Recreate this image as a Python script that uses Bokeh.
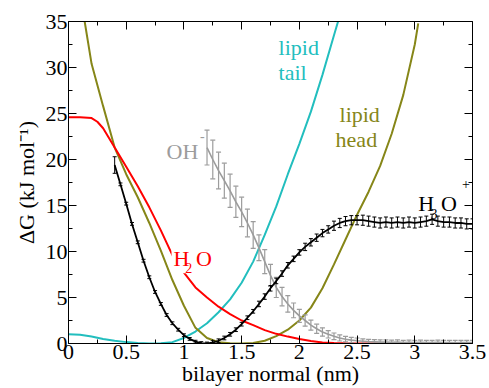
from bokeh.plotting import figure
from bokeh.models import (Range1d, FixedTicker, CustomJSTickFormatter, LinearAxis,
                          Label, ColumnDataSource)
from bokeh.embed import file_html
from bokeh.resources import INLINE

# ---------------- data ----------------
tail_x = [0.0, 0.1, 0.2, 0.3, 0.4, 0.5, 0.6, 0.7, 0.8, 0.9, 1.0, 1.1, 1.2, 1.3,
          1.4, 1.5, 1.6, 1.7, 1.8, 1.9, 2.0, 2.1, 2.2, 2.3, 2.34]
tail_y = [1.0, 0.95, 0.75, 0.5, 0.3, 0.15, 0.05, 0.0, 0.02, 0.15, 0.6, 1.3, 2.2, 3.4,
          4.8, 6.6, 8.9, 11.8, 14.9, 18.4, 21.7, 25.2, 29.2, 33.5, 35.2]

head_x = [0.14, 0.2, 0.3, 0.4, 0.5, 0.6, 0.7, 0.8, 0.9, 1.0, 1.1, 1.2, 1.3, 1.4,
          1.5, 1.6, 1.7, 1.8, 1.9, 2.0, 2.1, 2.2, 2.3, 2.4, 2.5, 2.6, 2.7, 2.8,
          2.9, 3.0, 3.03]
head_y = [35.0, 30.4, 25.8, 21.3, 18.4, 15.9, 13.1, 10.1, 6.9, 4.1, 1.7, 0.6, 0.15,
          0.02, 0.0, 0.05, 0.3, 0.8, 1.5, 2.5, 3.9, 6.0, 8.6, 11.3, 14.0, 16.5,
          19.3, 22.8, 27.0, 32.5, 34.8]

h2o_x = [0.0, 0.1, 0.2, 0.25, 0.3, 0.4, 0.5, 0.6, 0.7, 0.8, 0.9, 1.0, 1.1, 1.2, 1.3,
         1.4, 1.5, 1.6, 1.7, 1.8, 1.9, 2.0, 2.1, 2.2, 2.3, 2.4, 2.6, 2.8, 3.0,
         3.2, 3.4, 3.5]
h2o_y = [24.6, 24.6, 24.5, 24.1, 23.4, 21.3, 19.2, 17.1, 14.8, 12.3, 9.6, 7.7, 6.1, 5.0,
         4.0, 3.2, 2.5, 2.0, 1.45, 1.05, 0.75, 0.5, 0.28, 0.12, 0.05, 0.02, 0.0,
         0.0, 0.0, 0.0, 0.0, 0.0]

h3o_x = [round(0.40 + 0.05 * i, 2) for i in range(63)]
h3o_y = [19.4, 17.3, 15.2, 13.0, 11.0, 9.0, 7.2, 5.6, 4.3, 3.1, 2.2, 1.5, 0.9, 0.5,
         0.2, 0.05, 0.0,
         0.1, 0.3, 0.6, 1.0, 1.5, 2.1, 2.8, 3.5, 4.3, 5.1, 6.0, 6.8, 7.6, 8.5,
         9.2, 9.9,
         10.5, 11.0, 11.5, 12.0, 12.4, 12.8, 13.1, 13.3, 13.4, 13.4,
         13.4, 13.3, 13.2, 13.1, 13.2, 13.1, 13.2, 13.1, 13.2, 13.1, 13.2, 13.3,
         13.5, 13.3, 13.2, 13.2, 13.1, 13.1, 13.0, 13.0]
h3o_err = [0.9] + [0.15] * 16 + [0.2] * 8 + [0.3] * 8 + [0.4] * 5 + [0.5] * 5 + [0.55] * 20

oh_x = [round(1.20 + 0.05 * i, 2) for i in range(47)]
oh_y = [21.3, 20.0, 18.8, 17.7, 16.6, 15.4, 14.3, 13.1, 11.8, 10.4, 8.9, 7.4, 6.1,
        5.1, 4.3, 3.6, 3.0, 2.5, 2.0, 1.6, 1.25, 1.0, 0.78, 0.6, 0.47, 0.37, 0.3,
        0.25, 0.2, 0.18, 0.15, 0.15, 0.12, 0.15, 0.1, 0.12, 0.1, 0.12, 0.1, 0.1,
        0.12, 0.1, 0.1, 0.08, 0.1, 0.1, 0.1]
oh_err = [1.9, 2.1, 2.0, 1.9, 1.8, 1.7, 1.6, 1.5, 1.45, 1.4, 1.3, 1.2, 1.1, 1.0,
          0.9, 0.8, 0.7, 0.62, 0.55, 0.5, 0.45, 0.4, 0.36, 0.33, 0.3, 0.3, 0.3] + [0.25] * 20

x_ticks = [0, 0.5, 1, 1.5, 2, 2.5, 3, 3.5]
x_minor = [0.25, 0.75, 1.25, 1.75, 2.25, 2.75, 3.25]
y_ticks = [0, 5, 10, 15, 20, 25, 30, 35]
y_minor = [2.5, 7.5, 12.5, 17.5, 22.5, 27.5, 32.5]

x_title = "bilayer normal (nm)"
y_title = "ΔG (kJ mol⁻¹)"

# ---------------- styles ----------------
FONT = "Liberation Serif"
CYAN = "#22bebe"
OLIVE = "#868618"
RED = "#ff0000"
GRAY = "#9c9c9c"
BLACK = "#000000"

p = figure(width=489, height=388, x_range=Range1d(0, 3.5), y_range=Range1d(0, 35),
           output_backend="svg", toolbar_location=None,
           min_border_left=68, min_border_right=17, min_border_top=21,
           min_border_bottom=45)
p.grid.visible = False
p.outline_line_color = None
p.background_fill_color = "white"
p.border_fill_color = "white"

fmt = CustomJSTickFormatter(code="return tick.toString();")
blank = CustomJSTickFormatter(code="return '';")


def style_axis(ax, labels=True):
    ax.axis_line_color = "black"
    ax.axis_line_width = 1
    ax.major_tick_in = 8
    ax.major_tick_out = 0
    ax.minor_tick_in = 4
    ax.minor_tick_out = 0
    ax.major_tick_line_color = "black"
    ax.minor_tick_line_color = "black"
    ax.major_label_text_font = FONT
    ax.major_label_text_color = "black"
    ax.axis_label_text_font = FONT
    ax.axis_label_text_font_size = "22px"
    ax.axis_label_text_font_style = "normal"
    ax.axis_label_text_color = "black"
    if labels:
        ax.major_label_text_font_size = "22px"
    else:
        ax.major_label_text_font_size = "0px"
        ax.major_label_standoff = 0


xb = p.xaxis[0]
xb.ticker = FixedTicker(ticks=x_ticks, minor_ticks=x_minor)
xb.formatter = fmt
style_axis(xb)
xb.major_label_standoff = 1
xb.axis_label = x_title
xb.axis_label_standoff = -1

yl = p.yaxis[0]
yl.ticker = FixedTicker(ticks=y_ticks, minor_ticks=y_minor)
yl.formatter = fmt
style_axis(yl)
yl.major_label_standoff = 1
yl.axis_label = y_title
yl.axis_label_standoff = 4

xt = LinearAxis(ticker=FixedTicker(ticks=x_ticks, minor_ticks=x_minor), formatter=blank)
style_axis(xt, labels=False)
p.add_layout(xt, "above")
yr = LinearAxis(ticker=FixedTicker(ticks=y_ticks, minor_ticks=y_minor), formatter=blank)
style_axis(yr, labels=False)
p.add_layout(yr, "right")

# ---------------- curves ----------------
p.line(tail_x, tail_y, line_color=CYAN, line_width=2)
p.line(head_x, head_y, line_color=OLIVE, line_width=2)
p.line(h2o_x, h2o_y, line_color=RED, line_width=2)

oh_src = ColumnDataSource(dict(x=oh_x, y=oh_y,
                               lo=[v - e for v, e in zip(oh_y, oh_err)],
                               hi=[v + e for v, e in zip(oh_y, oh_err)]))
p.line("x", "y", source=oh_src, line_color=GRAY, line_width=1.6)
p.segment(x0="x", y0="lo", x1="x", y1="hi", source=oh_src, line_color=GRAY, line_width=1.2)
p.scatter("x", "lo", source=oh_src, marker="dash", size=5, line_color=GRAY, line_width=1.2)
p.scatter("x", "hi", source=oh_src, marker="dash", size=5, line_color=GRAY, line_width=1.2)

h3o_src = ColumnDataSource(dict(x=h3o_x, y=h3o_y,
                                lo=[v - e for v, e in zip(h3o_y, h3o_err)],
                                hi=[v + e for v, e in zip(h3o_y, h3o_err)]))
p.line("x", "y", source=h3o_src, line_color=BLACK, line_width=1.8)
p.segment(x0="x", y0="lo", x1="x", y1="hi", source=h3o_src, line_color=BLACK, line_width=1)
p.scatter("x", "lo", source=h3o_src, marker="dash", size=4, line_color=BLACK, line_width=1)
p.scatter("x", "hi", source=h3o_src, marker="dash", size=4, line_color=BLACK, line_width=1)


# ---------------- text ----------------
def lab(x, y, text, color, size="22px", align="left", bg=None):
    kw = dict(x=x, y=y, text=text, text_font=FONT, text_font_size=size,
              text_color=color, text_align=align, text_baseline="alphabetic")
    if bg:
        kw.update(background_fill_color=bg, padding=2)
    p.add_layout(Label(**kw))


lab(1.82, 32.2, "lipid", CYAN)
lab(1.82, 29.5, "tail", CYAN)
lab(2.348, 24.9, "lipid", OLIVE)
lab(2.314, 22.12, "head", OLIVE)

lab(0.849, 20.87, "OH", GRAY)
lab(1.1386, 22.6, "-", GRAY, size="14px")

lab(0.8925, 9.21, "H", RED, bg="white")
lab(1.011, 8.26, "2", RED, size="14px")
lab(1.105, 9.21, "O", RED)

lab(3.0295, 15.18, "H", BLACK)
lab(3.137, 14.1, "3", BLACK, size="14px")
lab(3.228, 15.18, "O", BLACK)
lab(3.41, 17.3, "+", BLACK, size="14px")

open("out.html", "w").write(file_html(p, INLINE))
